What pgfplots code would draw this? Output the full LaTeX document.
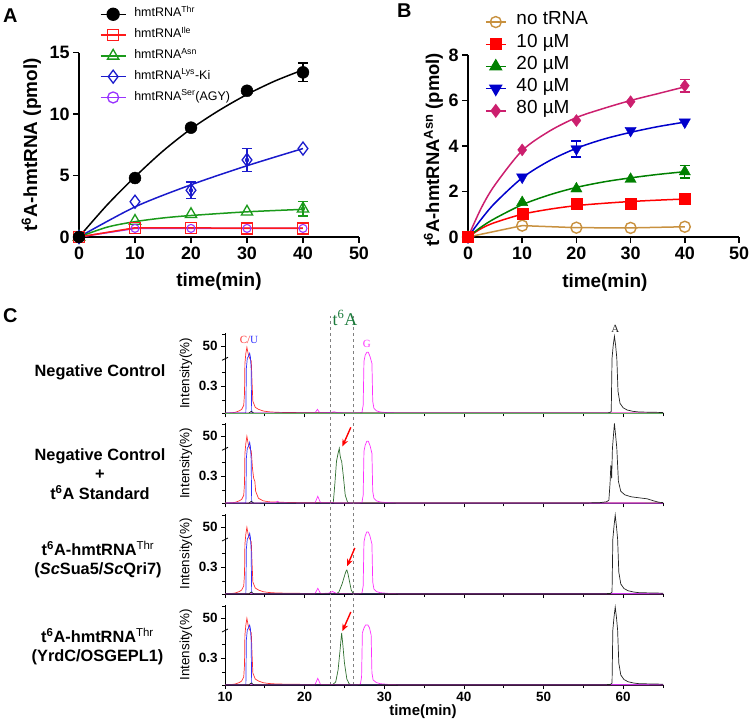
\documentclass[border=0pt]{standalone}
\usepackage{pgfplots}
\pgfplotsset{compat=1.18}
\usepackage{fontspec}
\setmainfont{Liberation Sans}
\newfontfamily\serif{Liberation Serif}
\usetikzlibrary{arrows.meta}
\newcommand{\fs}[1]{\fontsize{#1}{#1}\selectfont}
\definecolor{cThr}{HTML}{000000}
\definecolor{cIle}{HTML}{FF1A1A}
\definecolor{cAsn}{HTML}{1A9A1A}
\definecolor{cLys}{HTML}{1A1ACC}
\definecolor{cSer}{HTML}{9933FF}
\definecolor{cNo}{HTML}{C8913F}
\definecolor{cTen}{HTML}{FF0000}
\definecolor{cTwenty}{HTML}{008000}
\definecolor{cForty}{HTML}{0000CC}
\definecolor{cEighty}{HTML}{CC1F6E}
\definecolor{tred}{HTML}{FF3030}
\definecolor{tblue}{HTML}{3030FF}
\definecolor{tmag}{HTML}{FF30FF}
\definecolor{tblk}{HTML}{222222}
\definecolor{tgrn}{HTML}{2F6F2F}
\definecolor{tgrnl}{HTML}{5DAA5D}
\definecolor{tlab}{HTML}{1A7A3A}
\pgfplotsset{
  gp/.style={scale only axis, axis lines*=left,
    axis line style={line width=1.5bp, black},
    tick style={line width=1.5bp, black}, tick align=outside, major tick length=6bp,
    ticklabel style={font=\bfseries\fs{18}},
    /pgf/number format/assume math mode=true,
    label style={font=\bfseries\fs{19}},
    clip=false, xmin=0, xmax=50, ymin=0, xtick={0,10,...,50},
    legend cell align=left,
  },
  cpan/.style={scale only axis, width=438bp, height=80bp,
    xmin=10, xmax=65, ymin=0, ymax=80,
    axis lines*=left, axis line style={line width=0.8bp, black},
    tick style={line width=0.8bp, black},
    xtick={10,20,...,60}, minor xtick={15,25,...,65},
    ytick={27,67}, yticklabels={0.3,50}, minor ytick={0,13,41,79},
    major tick length=4bp, minor tick length=3bp, tick align=outside,
    ticklabel style={font=\bfseries\fs{13.5}},
    /pgf/number format/assume math mode=true,
    ylabel={Intensity(\%)},
    ylabel style={font=\fs{13.5}, at={(axis description cs:-0.089,0.5)}, anchor=center},
    clip=false,
  },
  trace/.style={line width=0.7bp, mark=none, forget plot},
}
\begin{document}
\begin{tikzpicture}
\useasboundingbox (0,0) rectangle (755bp,-724bp);
\node[anchor=north west, inner sep=0pt, font=\bfseries\fs{20}] at (3bp,-9bp) {A};
\node[anchor=north west, inner sep=0pt, font=\bfseries\fs{20}] at (397bp,-4bp) {B};
\node[anchor=north west, inner sep=0pt, font=\bfseries\fs{20}] at (3bp,-308bp) {C};

% ---------------- Panel A ----------------
\begin{axis}[gp, at={(79bp,-237bp)}, anchor=south west, width=280bp, height=184.3bp,
  ymax=15, ytick={0,5,10,15},
  xlabel={time(min)}, xlabel style={at={(axis description cs:0.5,-0.244)}, anchor=center},
  ylabel={t\textsuperscript{6}A-hmtRNA (pmol)}, ylabel style={at={(axis description cs:-0.17,0.5)}, anchor=center},
  legend image code/.code={\draw[mark repeat=2,mark phase=2] plot coordinates {(0bp,0bp)(12.5bp,0bp)(25bp,0bp)};},
  legend style={at={(axis description cs:0.075,1.265)}, anchor=north west, draw=none, fill=none,
    inner sep=0pt, outer sep=0pt, font=\fs{12.5}, row sep=0pt,
    nodes={inner sep=0pt, text height=13bp, text depth=7.8bp},
    /tikz/every odd column/.append style={column sep=8bp}},
]
% fits
\addplot[cThr, line width=1.5bp, smooth, forget plot] coordinates {(0,0)(5,2.6)(10,4.9)(15,7.0)(20,8.8)(25,10.3)(30,11.6)(35,12.7)(40,13.6)};
\addplot[cLys, line width=1.5bp, smooth, forget plot] coordinates {(0,0)(10,2.45)(20,4.25)(30,5.8)(40,7.2)};
\addplot[cAsn, line width=1.5bp, smooth, forget plot] coordinates {(0,0)(5,0.8)(10,1.25)(15,1.55)(20,1.75)(30,2.05)(40,2.25)};
\addplot[cSer, line width=1.5bp, forget plot] coordinates {(0,0)(10,0.7)(20,0.7)(30,0.7)(40,0.7)};
\addplot[cIle, line width=1.5bp, forget plot] coordinates {(0,0)(10,0.75)(20,0.74)(30,0.72)(40,0.72)};
% error bars
\addplot[cThr, only marks, mark=none, forget plot, error bars/.cd, y dir=both, y explicit,
  error bar style={line width=1.3bp, cThr}, error mark options={rotate=90, mark size=5bp, line width=1.3bp, cThr}]
  coordinates {(40,13.4) +- (0,0.75)};
\addplot[cLys, only marks, mark=none, forget plot, error bars/.cd, y dir=both, y explicit,
  error bar style={line width=1.3bp, cLys}, error mark options={rotate=90, mark size=5bp, line width=1.3bp, cLys}]
  coordinates {(20,3.8) +- (0,0.67) (30,6.27) +- (0,0.92)};
\addplot[cAsn, only marks, mark=none, forget plot, error bars/.cd, y dir=both, y explicit,
  error bar style={line width=1.3bp, cAsn}, error mark options={rotate=90, mark size=5bp, line width=1.3bp, cAsn}]
  coordinates {(40,2.3) +- (0,0.6)};
% marks
\addplot[cAsn, only marks, mark=triangle, mark size=6.5bp, line width=1.3bp, mark options={fill=white}, forget plot]
  coordinates {(0,0)(10,1.3)(20,1.85)(30,2.05)(40,2.3)};
\addplot[cLys, only marks, mark=diamond, mark size=6.5bp, line width=1.3bp, mark options={fill=white}, forget plot]
  coordinates {(0,0)(10,2.87)(20,3.8)(30,6.27)(40,7.2)};
\addplot[cIle, only marks, mark=square, mark size=5.5bp, line width=1.3bp, mark options={fill=white}, forget plot]
  coordinates {(0,0)(10,0.72)(20,0.72)(30,0.7)(40,0.7)};
\addplot[cSer, only marks, mark=o, mark size=4bp, line width=1.1bp, mark options={fill=white}, forget plot]
  coordinates {(0,0)(10,0.7)(20,0.7)(30,0.7)(40,0.7)};
\addplot[cThr, only marks, mark=*, mark size=6bp, forget plot]
  coordinates {(0,0)(10,4.8)(20,8.9)(30,11.9)(40,13.4)};
% legend
\addlegendimage{cThr, line width=1.3bp, mark=*, mark size=6bp}
\addlegendentry{hmtRNA\textsuperscript{Thr}}
\addlegendimage{cIle, line width=1.3bp, mark=square, mark size=5.5bp, mark options={fill=white}}
\addlegendentry{hmtRNA\textsuperscript{Ile}}
\addlegendimage{cAsn, line width=1.3bp, mark=triangle, mark size=6.5bp, mark options={fill=white}}
\addlegendentry{hmtRNA\textsuperscript{Asn}}
\addlegendimage{cLys, line width=1.3bp, mark=diamond, mark size=6.5bp, mark options={fill=white}}
\addlegendentry{hmtRNA\textsuperscript{Lys}-Ki}
\addlegendimage{cSer, line width=1.3bp, mark=o, mark size=5.5bp, mark options={fill=white}}
\addlegendentry{hmtRNA\textsuperscript{Ser}(AGY)}
\end{axis}

% ---------------- Panel B ----------------
\begin{axis}[gp, at={(468bp,-237bp)}, anchor=south west, width=271bp, height=182bp,
  ymax=8, ytick={0,2,4,6,8},
  xlabel={time(min)}, xlabel style={at={(axis description cs:0.505,-0.253)}, anchor=center},
  ylabel={t\textsuperscript{6}A-hmtRNA\textsuperscript{Asn} (pmol)}, ylabel style={font=\bfseries\fs{18.5}, at={(axis description cs:-0.128,0.48)}, anchor=center},
  legend image code/.code={\draw[mark repeat=2,mark phase=2] plot coordinates {(0bp,0bp)(10bp,0bp)(20bp,0bp)};},
  legend style={at={(axis description cs:0.063,1.242)}, anchor=north west, draw=none, fill=none,
    inner sep=0pt, outer sep=0pt, font=\fs{19}, row sep=0pt,
    nodes={inner sep=0pt, text height=14bp, text depth=8.2bp},
    /tikz/every odd column/.append style={column sep=10bp}},
]
\addplot[cNo, line width=1.5bp, forget plot] coordinates {(0,0)(10,0.5)(20,0.41)(30,0.4)(40,0.45)};
\addplot[cTen, line width=1.5bp, smooth, forget plot] coordinates {(0,0)(2.5,0.38)(5,0.64)(10,1.0)(15,1.22)(20,1.38)(25,1.48)(30,1.56)(35,1.62)(40,1.67)};
\addplot[cTwenty, line width=1.5bp, smooth, forget plot] coordinates {(0,0)(2.5,0.45)(5,0.82)(10,1.42)(15,1.85)(20,2.18)(25,2.42)(30,2.6)(35,2.75)(40,2.87)};
\addplot[cForty, line width=1.5bp, smooth, forget plot] coordinates {(0,0)(2.5,0.8)(5,1.5)(10,2.6)(15,3.35)(20,3.9)(25,4.3)(30,4.6)(35,4.85)(40,5.05)};
\addplot[cEighty, line width=1.5bp, smooth, forget plot] coordinates {(0,0)(2.5,1.3)(5,2.3)(10,3.8)(15,4.65)(20,5.25)(25,5.65)(30,6.0)(35,6.3)(40,6.6)};
\addplot[cTwenty, only marks, mark=none, forget plot, error bars/.cd, y dir=both, y explicit,
  error bar style={line width=1.3bp, cTwenty}, error mark options={rotate=90, mark size=5bp, line width=1.3bp, cTwenty}]
  coordinates {(40,2.87) +- (0,0.28)};
\addplot[cForty, only marks, mark=none, forget plot, error bars/.cd, y dir=both, y explicit,
  error bar style={line width=1.3bp, cForty}, error mark options={rotate=90, mark size=5bp, line width=1.3bp, cForty}]
  coordinates {(20,3.87) +- (0,0.35)};
\addplot[cEighty, only marks, mark=none, forget plot, error bars/.cd, y dir=both, y explicit,
  error bar style={line width=1.3bp, cEighty}, error mark options={rotate=90, mark size=5bp, line width=1.3bp, cEighty}]
  coordinates {(40,6.65) +- (0,0.27)};
\addplot[cNo, only marks, mark=o, mark size=5.5bp, line width=1.4bp, mark options={fill=white}, forget plot]
  coordinates {(0,0)(10,0.5)(20,0.41)(30,0.4)(40,0.45)};
\addplot[cEighty, only marks, mark=diamond*, mark size=6bp, forget plot]
  coordinates {(0,0)(10,3.83)(20,5.12)(30,5.95)(40,6.65)};
\addplot[cForty, only marks, mark=triangle*, mark size=6.5bp, mark options={rotate=180}, forget plot]
  coordinates {(0,0)(10,2.63)(20,3.87)(30,4.68)(40,5.05)};
\addplot[cTwenty, only marks, mark=triangle*, mark size=6.5bp, forget plot]
  coordinates {(0,0)(10,1.52)(20,2.12)(30,2.54)(40,2.87)};
\addplot[cTen, only marks, mark=square*, mark size=5.5bp, forget plot]
  coordinates {(0,0)(10,1.04)(20,1.45)(30,1.46)(40,1.68)};
\addlegendimage{cNo, line width=1.4bp, mark=o, mark size=5.5bp, mark options={fill=white}}
\addlegendentry{no tRNA}
\addlegendimage{cTen, line width=1.4bp, mark=square*, mark size=5.5bp}
\addlegendentry{10 µM}
\addlegendimage{cTwenty, line width=1.4bp, mark=triangle*, mark size=6.5bp}
\addlegendentry{20 µM}
\addlegendimage{cForty, line width=1.4bp, mark=triangle*, mark size=6.5bp, mark options={rotate=180}}
\addlegendentry{40 µM}
\addlegendimage{cEighty, line width=1.4bp, mark=diamond*, mark size=6bp}
\addlegendentry{80 µM}
\end{axis}

% ---------------- Panel C ----------------
\node[align=center, font=\bfseries\fontsize{16.4}{19.5}\selectfont] at (100bp,-372.7bp) {Negative Control};
\node[align=center, font=\bfseries\fontsize{16.4}{19.5}\selectfont] at (100bp,-474bp)
  {Negative Control\\+\\t\textsuperscript{6}A Standard};
\node[align=center, font=\bfseries\fontsize{16.4}{19.5}\selectfont] at (98bp,-559.7bp)
  {t\textsuperscript{6}A-hmtRNA\textsuperscript{\mdseries Thr}\\(\textit{Sc}Sua5/\textit{Sc}Qri7)};
\node[align=center, font=\bfseries\fontsize{16.4}{19.5}\selectfont] at (97.5bp,-646.7bp)
  {t\textsuperscript{6}A-hmtRNA\textsuperscript{\mdseries Thr}\\(YrdC/OSGEPL1)};

% panel C1
\begin{axis}[cpan, at={(225bp,-413.3bp)}, anchor=south west, xticklabels={}]
\addplot[gray, dashed, line width=0.7bp, forget plot] coordinates {(23.28,0)(23.28,97)};
\addplot[gray, dashed, line width=0.7bp, forget plot] coordinates {(26.12,0)(26.12,97)};
\addplot[trace, tred] coordinates {(10,0.3)(10.8,0.5)(11.3,1)(11.8,2.5)(12.1,4)(12.35,8)(12.45,20)(12.5,50)(12.62,60)(12.75,66)(12.9,60)(13.05,56)(13.3,52)(13.4,30)(13.5,12)(13.8,6)(14.2,4)(14.8,2.3)(15.5,1.5)(16.5,1)(18,0.8)(20,0.6)(25,0.4)(35,0.3)(65,0.3)};
\addplot[trace, tblue] coordinates {(10,0.2)(12.55,0.3)(12.62,1)(12.68,45)(12.8,55)(12.95,57)(13.1,60)(13.2,56)(13.28,45)(13.35,1)(13.5,0.2)(65,0.2)};
\addplot[trace, tmag] coordinates {(10,0.2)(21.3,0.3)(21.6,4)(21.9,0.5)(23.3,0.8)(23.7,1.5)(24.2,0.5)(26.8,0.3)(27.2,0.8)(27.35,8)(27.45,52)(27.6,58)(27.8,61)(28.0,61)(28.2,57)(28.45,50)(28.55,12)(28.7,5)(29,2.5)(29.5,1.3)(30.5,0.6)(32,0.3)(65,0.2)};
\addplot[trace, tblk] coordinates {(10,0.2)(13.0,0.2)(13.3,2)(13.6,0.2)(57.5,0.3)(58.3,0.5)(58.5,2)(58.6,55)(58.75,68)(58.9,77)(59.05,68)(59.2,55)(59.35,22)(59.6,10)(60,5.5)(60.5,3.3)(61.2,2)(62,1.3)(64,1)(65,0.8)};
\addplot[trace, tgrnl, line width=1bp] coordinates {(10,0.3)(65,0.3)};
\draw[line width=0.8bp] ([xshift=-3bp,yshift=-3bp]axis cs:10,56) -- ([xshift=3bp,yshift=0bp]axis cs:10,56);
\node[font=\serif\fs{11}, inner sep=0pt] at (axis cs:13.0,73) {\textcolor{tred}{C/}\textcolor{tblue}{U}};
\node[font=\serif\fs{11}, inner sep=0pt, text=tmag] at (axis cs:27.8,69.3) {G};
\node[font=\serif\fs{11}, inner sep=0pt, text=tblk] at (axis cs:59.0,84) {A};
\node[font=\serif\fs{18}, inner sep=0pt, text=tlab] at (axis cs:25.08,95.3) {t\textsuperscript{6}A};
\end{axis}

% panel C2
\begin{axis}[cpan, at={(225bp,-503.3bp)}, anchor=south west, xticklabels={}]
\addplot[gray, dashed, line width=0.7bp, forget plot] coordinates {(23.28,0)(23.28,91)};
\addplot[gray, dashed, line width=0.7bp, forget plot] coordinates {(26.12,0)(26.12,91)};
\addplot[trace, tgrn] coordinates {(10,0.3)(23.3,0.3)(23.6,1)(23.8,20)(24.0,42)(24.1,46)(24.2,50)(24.35,55)(24.45,48)(24.55,44)(24.65,42)(24.85,28)(25.1,8)(25.4,1)(25.7,0.3)(65,0.3)};
\addplot[trace, tred] coordinates {(10,0.3)(10.8,0.5)(11.3,1)(11.8,2.5)(12.1,4)(12.35,8)(12.45,20)(12.5,50)(12.62,60)(12.75,67)(12.9,60)(13.05,56)(13.3,52)(13.45,35)(13.6,25)(13.75,22)(13.85,12)(14.2,5)(14.8,2.5)(15.5,1.5)(16.5,1.2)(18,0.8)(20,0.6)(25,0.4)(35,0.3)(65,0.3)};
\addplot[trace, tblue] coordinates {(10,0.2)(12.55,0.3)(12.62,1)(12.68,45)(12.8,55)(12.95,57)(13.1,61)(13.2,56)(13.28,45)(13.35,1)(13.5,0.2)(65,0.2)};
\addplot[trace, tmag] coordinates {(10,0.2)(16.3,0.5)(16.6,2)(16.9,0.5)(21.3,0.3)(21.65,7)(22.0,0.5)(23.3,0.6)(24,0.3)(26.8,0.3)(27.2,0.8)(27.35,8)(27.45,52)(27.6,58)(27.8,62)(28.0,62)(28.2,58)(28.45,50)(28.55,12)(28.7,5)(29,2.5)(29.5,1.3)(30.5,0.6)(32,0.3)(65,0.2)};
\addplot[trace, tblk] coordinates {(10,0.2)(13.0,0.2)(13.3,2)(13.6,0.2)(55,0.3)(57,0.6)(57.9,1.5)(58.2,3)(58.35,20)(58.45,38)(58.55,25)(58.65,55)(58.8,70)(58.9,80)(59.05,68)(59.2,55)(59.4,22)(59.7,12)(60.2,8.5)(61,6.5)(62,5.5)(63,4.5)(63.8,2.5)(64.5,1)(65,0.8)};
\addplot[red, line width=1.4bp, -{Stealth[length=7bp,width=6bp]}, forget plot] coordinates {(25.8,76)(24.75,57)};
\draw[line width=0.8bp] ([xshift=-3bp,yshift=-3bp]axis cs:10,56) -- ([xshift=3bp,yshift=0bp]axis cs:10,56);
\end{axis}

% panel C3
\begin{axis}[cpan, at={(225bp,-594bp)}, anchor=south west, xticklabels={}]
\addplot[gray, dashed, line width=0.7bp, forget plot] coordinates {(23.28,0)(23.28,91)};
\addplot[gray, dashed, line width=0.7bp, forget plot] coordinates {(26.12,0)(26.12,91)};
\addplot[trace, tgrn] coordinates {(10,0.3)(24.0,0.3)(24.3,2)(24.7,10)(25.0,18)(25.2,23)(25.3,24)(25.45,20)(25.6,14)(25.85,4)(26.1,0.5)(26.3,0.3)(65,0.3)};
\addplot[trace, tred] coordinates {(10,0.3)(10.8,0.5)(11.3,1)(11.8,2.5)(12.1,4)(12.35,8)(12.45,20)(12.5,50)(12.62,60)(12.75,66.7)(12.9,60)(13.05,56)(13.3,52)(13.4,30)(13.5,12)(13.8,6)(14.2,4)(14.8,2.3)(15.5,1.5)(16.5,1)(18,0.8)(20,0.6)(25,0.4)(35,0.3)(65,0.3)};
\addplot[trace, tblue] coordinates {(10,0.2)(12.55,0.3)(12.62,1)(12.68,45)(12.8,55)(12.95,57)(13.1,60.7)(13.2,56)(13.28,45)(13.35,1)(13.5,0.2)(65,0.2)};
\addplot[trace, tmag] coordinates {(10,0.2)(21.3,0.3)(21.65,5.7)(22.0,0.5)(23.0,0.8)(23.5,2.5)(24.0,0.5)(26.8,0.3)(27.2,0.8)(27.35,8)(27.45,52)(27.6,58)(27.8,62)(28.0,62)(28.2,58)(28.45,50)(28.55,12)(28.7,5)(29,2.5)(29.5,1.3)(30.5,0.6)(32,0.3)(65,0.2)};
\addplot[trace, tblk] coordinates {(10,0.2)(13.0,0.2)(13.3,2)(13.6,0.2)(57.5,0.3)(58.4,0.5)(58.6,2)(58.7,55)(58.85,68)(59.0,79)(59.15,68)(59.3,55)(59.45,22)(59.7,10)(60.1,5.5)(60.6,3.3)(61.3,2)(62,1.3)(64,1)(65,0.8)};
\addplot[red, line width=1.4bp, -{Stealth[length=7bp,width=6bp]}, forget plot] coordinates {(26.3,46)(25.35,28)};
\draw[line width=0.8bp] ([xshift=-3bp,yshift=-3bp]axis cs:10,56) -- ([xshift=3bp,yshift=0bp]axis cs:10,56);
\end{axis}

% panel C4
\begin{axis}[cpan, at={(225bp,-685bp)}, anchor=south west,
  xlabel={time(min)}, xlabel style={font=\bfseries\fs{15}, at={(axis description cs:0.452,-0.334)}, anchor=center}]
\addplot[gray, dashed, line width=0.7bp, forget plot] coordinates {(23.28,0)(23.28,91)};
\addplot[gray, dashed, line width=0.7bp, forget plot] coordinates {(26.12,0)(26.12,91)};
\addplot[trace, tgrn] coordinates {(10,0.3)(23.5,0.3)(23.9,3)(24.2,15)(24.45,35)(24.55,44)(24.65,52)(24.8,40)(25.0,22)(25.3,6)(25.6,1)(25.9,0.3)(65,0.3)};
\addplot[trace, tred] coordinates {(10,0.3)(10.8,0.5)(11.3,1)(11.8,2.5)(12.1,4)(12.35,8)(12.45,20)(12.5,50)(12.62,60)(12.75,66.7)(12.9,60)(13.05,56)(13.3,52)(13.4,30)(13.5,12)(13.8,6)(14.2,4)(14.8,2.3)(15.5,1.5)(16.5,1)(18,0.8)(20,0.6)(25,0.4)(35,0.3)(65,0.3)};
\addplot[trace, tblue] coordinates {(10,0.2)(12.55,0.3)(12.62,1)(12.68,45)(12.8,55)(12.95,57)(13.1,60)(13.2,56)(13.28,45)(13.35,1)(13.5,0.2)(65,0.2)};
\addplot[trace, tmag] coordinates {(10,0.2)(21.3,0.3)(21.65,6.7)(22.0,0.5)(23.3,0.6)(24,0.3)(26.6,0.3)(27.0,0.8)(27.15,8)(27.25,52)(27.45,57)(27.65,60)(27.95,60)(28.15,57)(28.35,50)(28.45,12)(28.6,5)(29,2.5)(29.5,1.3)(30.5,0.6)(32,0.3)(65,0.2)};
\addplot[trace, tblk] coordinates {(10,0.2)(13.0,0.2)(13.3,2)(13.6,0.2)(57.5,0.3)(58.4,0.5)(58.6,2)(58.7,55)(58.85,68)(59.0,78)(59.15,68)(59.3,55)(59.45,22)(59.7,10)(60.1,5.5)(60.6,3.3)(61.3,2)(62,1.3)(64,1)(65,0.8)};
\addplot[red, line width=1.4bp, -{Stealth[length=7bp,width=6bp]}, forget plot] coordinates {(25.8,73)(24.75,54)};
\draw[line width=0.8bp] ([xshift=-3bp,yshift=-3bp]axis cs:10,56) -- ([xshift=3bp,yshift=0bp]axis cs:10,56);
\end{axis}
\end{tikzpicture}
\end{document}
